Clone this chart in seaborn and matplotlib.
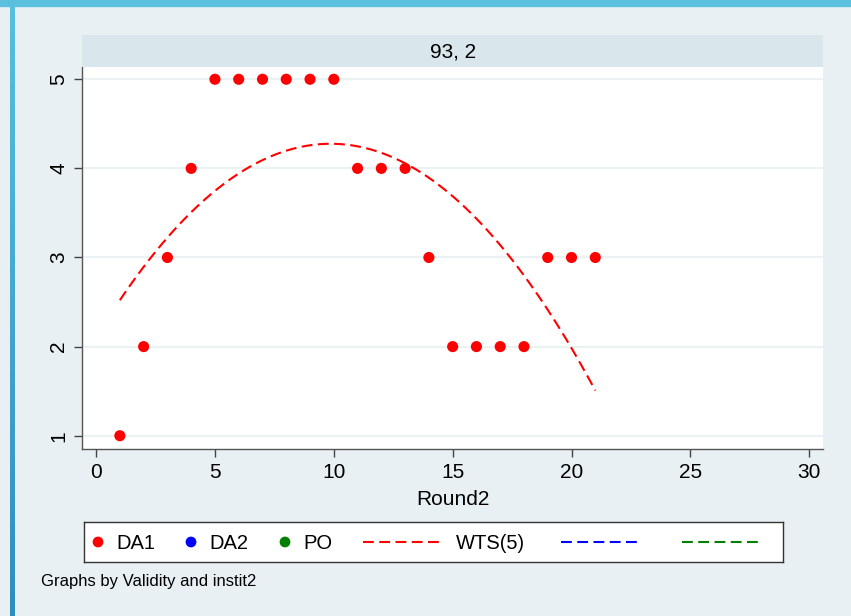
import numpy as np
import pandas as pd
import matplotlib
matplotlib.use("Agg")
import matplotlib.pyplot as plt
from matplotlib.patches import Rectangle
import seaborn as sns

# panel "93, 2" -- only DA1 has observations here
rounds_da1 = [1, 2, 3, 4, 5, 6, 7, 8, 9, 10, 11, 12, 13, 14, 15, 16, 17, 18, 19, 20, 21]
score_da1 = [1, 2, 3, 4, 5, 5, 5, 5, 5, 5, 4, 4, 4, 3, 2, 2, 2, 2, 3, 3, 3]
rounds_da2 = []
score_da2 = []
rounds_po = []
score_po = []

series_names = ["DA1", "DA2", "PO"]
series_colors = ["red", "blue", "green"]
fit_labels = ["WTS(5)", "", ""]

x_ticks = [0, 5, 10, 15, 20, 25, 30]
y_ticks = [1, 2, 3, 4, 5]
panel_title = "93, 2"
x_label = "Round2"
note = "Graphs by Validity and instit2"

W, H = 851, 616
bg = "#e8f0f3"
dash = (0, (5.2, 2.6))
plt.rcParams["font.family"] = ["Liberation Sans", "DejaVu Sans"]

fig = plt.figure(figsize=(W / 100, H / 100), dpi=100, facecolor=bg)

# frame bars (top and left)
fig.patches.append(Rectangle((0, 1 - 5.5 / H), 1, 5.5 / H, transform=fig.transFigure,
                             color="#5bc0de", zorder=0))
bar_ax = fig.add_axes([10 / W, 0, 5 / W, 1 - 5.5 / H])
bar_ax.imshow(np.linspace(0, 1, 100).reshape(-1, 1), aspect="auto",
              cmap=matplotlib.colors.LinearSegmentedColormap.from_list("b", ["#58bfe0", "#2e8fbf"]))
bar_ax.axis("off")

left, right, top, bottom = 82.3, 823, 66.7, 449
ax = fig.add_axes([left / W, 1 - bottom / H, (right - left) / W, (bottom - top) / H])
ax.set_facecolor("white")

df = pd.DataFrame({
    "round": rounds_da1 + rounds_da2 + rounds_po,
    "score": score_da1 + score_da2 + score_po,
    "group": ["DA1"] * len(rounds_da1) + ["DA2"] * len(rounds_da2) + ["PO"] * len(rounds_po),
})

for name, col in zip(series_names, series_colors):
    sub = df[df["group"] == name]
    if len(sub) == 0:
        continue
    sns.scatterplot(data=sub, x="round", y="score", color=col, s=64, edgecolor="none",
                    ax=ax, zorder=3, legend=False)
    sns.regplot(data=sub, x="round", y="score", order=2, ci=None, scatter=False,
                truncate=True, ax=ax,
                line_kws={"color": col, "lw": 1.5, "ls": dash, "zorder": 2})

ax.set_xlim(-0.58, 30.58)
ax.set_ylim(0.851, 5.141)
ax.set_xticks(x_ticks)
ax.set_yticks(y_ticks)
ax.set_xticklabels([str(t) for t in x_ticks], fontsize=15)
ax.set_yticklabels([str(t) for t in y_ticks], fontsize=15, rotation=90, va="center")
ax.grid(axis="y", color="#eaf2f3", lw=1.6, zorder=0)
ax.set_axisbelow(True)
ax.tick_params(length=6, width=1, color="#444444", pad=4)
ax.set_xlabel(x_label, fontsize=15, labelpad=6)
ax.set_ylabel("")
for s in ["top", "right"]:
    ax.spines[s].set_visible(False)
for s in ["left", "bottom"]:
    ax.spines[s].set_color("#555555")
    ax.spines[s].set_linewidth(1)

# panel strip
strip = fig.add_axes([left / W, 1 - top / H, (right - left) / W, 32 / H])
strip.set_facecolor("#d9e6ec")
strip.set_xticks([])
strip.set_yticks([])
for s in strip.spines.values():
    s.set_visible(False)
strip.text(0.5, 0.45, panel_title, ha="center", va="center", fontsize=15)

# legend box
lg = fig.add_axes([84 / W, 1 - 562 / H, (783 - 84) / W, 40 / H])
lg.set_xlim(84, 783)
lg.set_ylim(0, 1)
lg.set_xticks([])
lg.set_yticks([])
for s in lg.spines.values():
    s.set_color("#333333")
    s.set_linewidth(1)
dot_x = [98, 191, 285]
for x0, name, col in zip(dot_x, series_names, series_colors):
    lg.scatter([x0], [0.5], s=60, color=col, edgecolor="none")
    lg.text(x0 + 18, 0.47, name, va="center", fontsize=14.5)
line_x = [363, 561, 682]
for x0, lab, col in zip(line_x, fit_labels, series_colors):
    lg.plot([x0, x0 + 79], [0.5, 0.5], color=col, lw=1.5, ls=dash)
    if lab:
        lg.text(x0 + 93, 0.47, lab, va="center", fontsize=14.5)

fig.text(41 / W, 1 - 586 / H, note, fontsize=12, va="baseline")

fig.savefig("out.png", dpi=100, facecolor=bg)
